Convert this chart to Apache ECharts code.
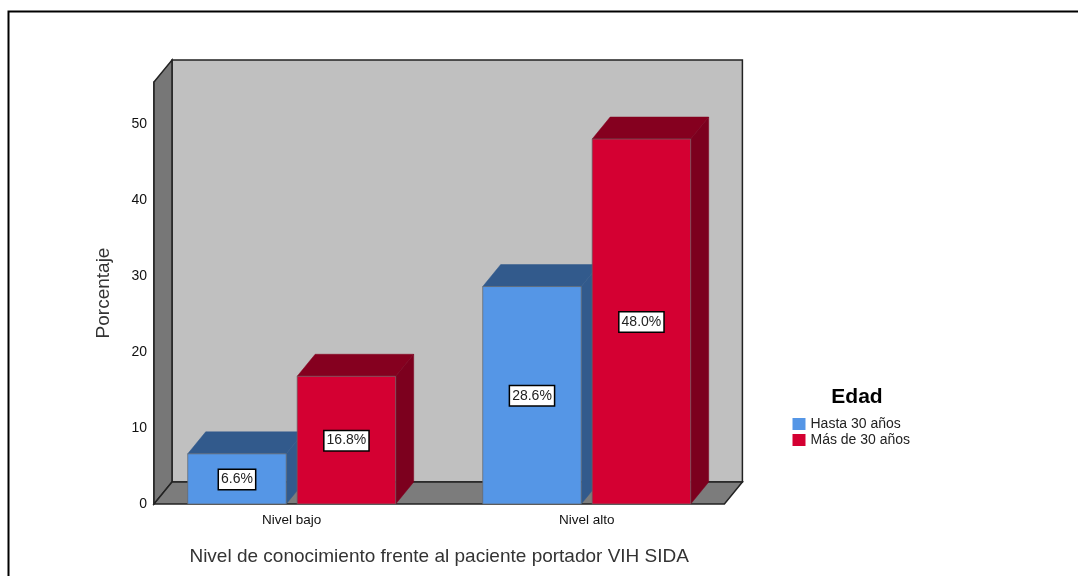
<!DOCTYPE html>
<html>
<head>
<meta charset="utf-8">
<style>html,body{margin:0;padding:0;background:#fff}#c{width:1078px;height:576px}</style>
<script src="https://cdn.jsdelivr.net/npm/echarts@6/dist/echarts.min.js"></script>
</head>
<body>
<div id="c"></div>
<script>
const categories = ['Nivel bajo', 'Nivel alto'];
const hasta30 = [6.6, 28.6];
const mas30 = [16.8, 48.0];
const yTicks = [0, 10, 20, 30, 40, 50];
const FF = '"Liberation Sans", Arial, sans-serif';
const DX = 18, DY = -22, INSET = 9.8;

function shade(points, fill, stroke, lw) {
  return { type: 'polygon', shape: { points }, style: { fill, stroke: stroke || fill, lineWidth: lw || 0.5 } };
}
function barRenderer(sign, front, side, top) {
  return function (params, api) {
    const band = api.size([1, 0])[0];
    const w = band * 0.334, gap = band * 0.037;
    const c = api.coord([api.value(0), api.value(1)]);
    const base = api.coord([api.value(0), 0])[1];
    const xc = c[0] + sign * (w + gap) / 2;
    const l = xc - w / 2, r = xc + w / 2, t = c[1];
    return {
      type: 'group',
      children: [
        shade([[l, t], [r, t], [r + DX, t + DY], [l + DX, t + DY]], top),
        shade([[r, t], [r + DX, t + DY], [r + DX, base + DY], [r, base]], side),
        shade([[l, t], [r, t], [r, base], [l, base]], front, '#666', 0.7),
        {
          type: 'text',
          x: xc, y: (t + base) / 2 + 0.5,
          style: {
            text: api.value(1).toFixed(1) + '%',
            x: 0, y: 0, align: 'center', verticalAlign: 'middle',
            font: '14px ' + FF, fill: '#222',
            backgroundColor: '#fff', borderColor: '#000', borderWidth: 1.5,
            padding: [3, 2, 2, 2]
          }
        }
      ]
    };
  };
}
function frameRenderer(params, api) {
  const s = params.coordSys;
  const x0 = s.x + INSET, x1 = s.x + s.width - INSET, yb = s.y + s.height, yt = s.y;
  const line = '#222';
  return {
    type: 'group',
    children: [
      shade([[x0 + DX, yt + DY], [x1 + DX, yt + DY], [x1 + DX, yb + DY], [x0 + DX, yb + DY]], '#c0c0c0', line, 1.5),
      shade([[x0, yt], [x0 + DX, yt + DY], [x0 + DX, yb + DY], [x0, yb]], '#777777', line, 1.5),
      shade([[x0, yb], [x1, yb], [x1 + DX, yb + DY], [x0 + DX, yb + DY]], '#7c7c7c', line, 1.5)
    ]
  };
}
const chart = echarts.init(document.getElementById('c'), null, { renderer: 'canvas' });
chart.setOption({
  animation: false,
  backgroundColor: '#fff',
  textStyle: { fontFamily: FF },
  title: {
    text: 'Edad', left: 852, top: 382, textAlign: 'center',
    textStyle: { fontFamily: FF, fontSize: 21, fontWeight: 'bold', color: '#000' }
  },
  legend: {
    orient: 'vertical', left: 787.5, top: 412, itemWidth: 13, itemHeight: 12, itemGap: 2, icon: 'rect',
    data: ['Hasta 30 años', 'Más de 30 años'],
    textStyle: { fontFamily: FF, fontSize: 14, color: '#222' }
  },
  grid: { left: 144.2, width: 590, top: 82, bottom: 72, containLabel: false },
  xAxis: {
    type: 'category', data: categories,
    axisLine: { show: false }, axisTick: { show: false },
    axisLabel: { fontFamily: FF, fontSize: 13.5, color: '#111', margin: 9 },
    name: 'Nivel de conocimiento frente al paciente portador VIH SIDA',
    nameLocation: 'middle', nameGap: 43,
    nameTextStyle: { fontFamily: FF, fontSize: 19, color: '#333' }
  },
  yAxis: {
    type: 'value', min: 0, max: 55.5, offset: -INSET,
    splitLine: { show: false },
    axisLine: { show: true, onZero: false, lineStyle: { color: '#111', width: 1.5 } },
    axisTick: { show: false, customValues: yTicks },
    axisLabel: { fontFamily: FF, fontSize: 14, color: '#111', margin: 7, padding: [3, 0, 0, 0], customValues: yTicks },
    name: 'Porcentaje', nameLocation: 'middle', nameGap: 41, nameRotate: 90,
    nameTextStyle: { fontFamily: FF, fontSize: 19, color: '#333' }
  },
  graphic: [
    { type: 'polyline', shape: { points: [[8.5, 576], [8.5, 11.5], [1078, 11.5]] }, style: { stroke: '#000', lineWidth: 2, fill: null } }
  ],
  series: [
    { type: 'custom', name: 'marco', silent: true, renderItem: frameRenderer, data: [[0, 0]], encode: { x: 0, y: 1 }, z: 1 },
    { type: 'custom', name: 'Hasta 30 años', silent: true, itemStyle: { color: '#5596e6' },
      renderItem: barRenderer(-1, '#5596e6', '#325a8c', '#325a8c'),
      data: hasta30.map((v, i) => [i, v]), encode: { x: 0, y: 1 }, z: 2 },
    { type: 'custom', name: 'Más de 30 años', silent: true, itemStyle: { color: '#d40032' },
      renderItem: barRenderer(1, '#d40032', '#7c001e', '#85001f'),
      data: mas30.map((v, i) => [i, v]), encode: { x: 0, y: 1 }, z: 3 }
  ]
});
</script>
</body>
</html>
